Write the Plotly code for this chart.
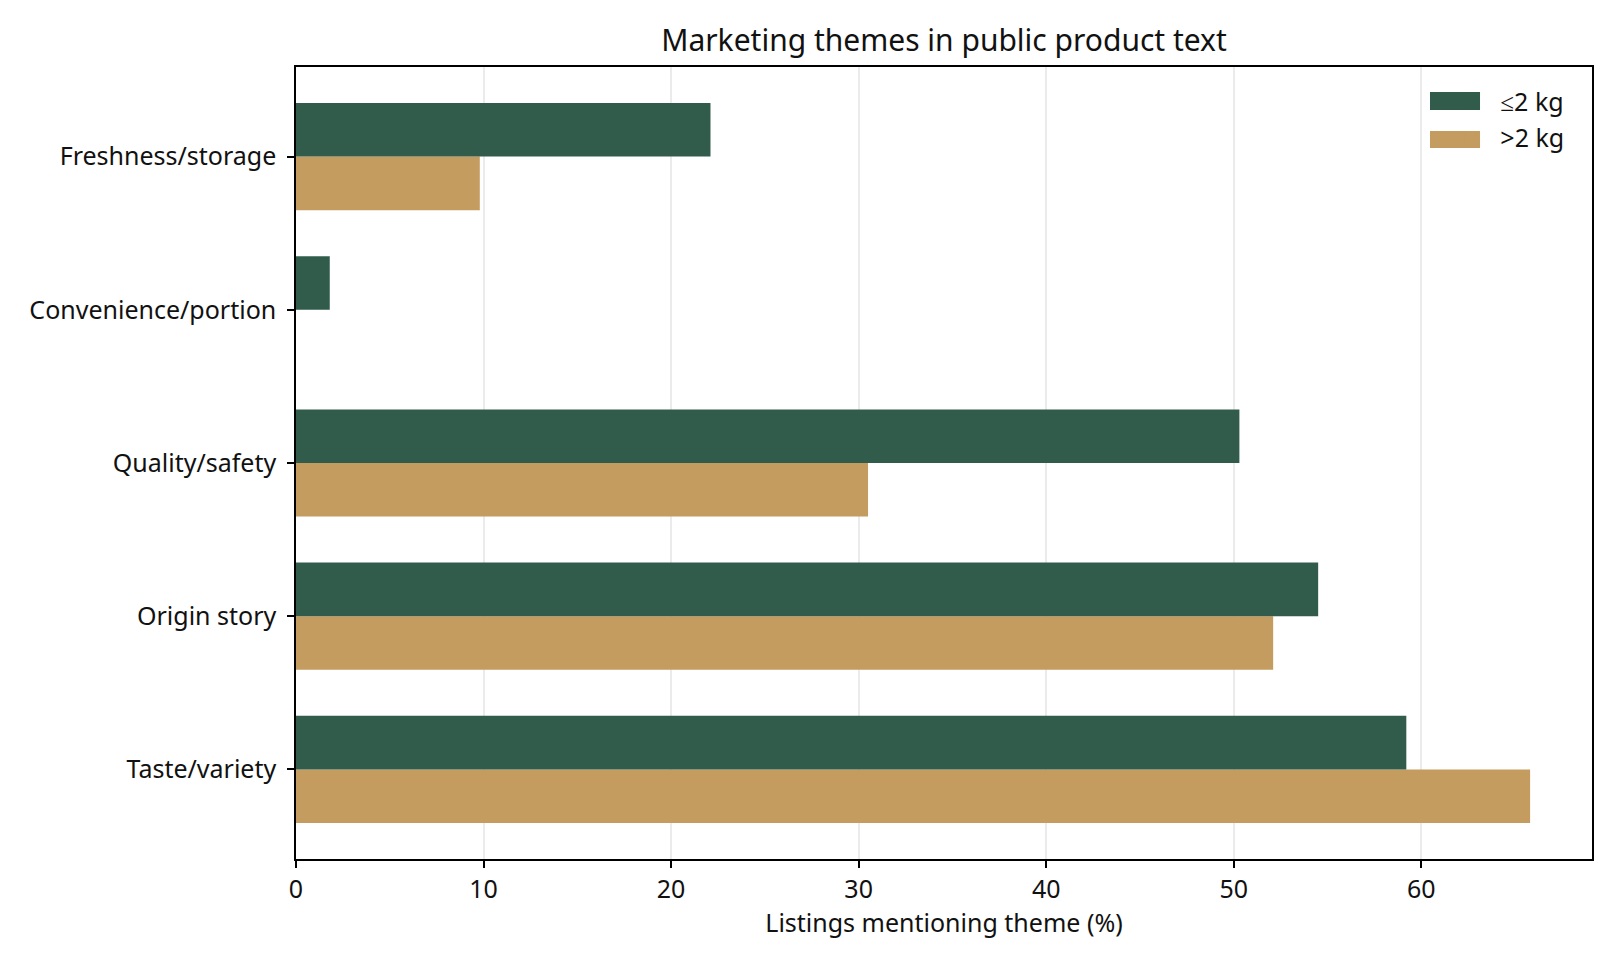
import plotly.graph_objects as go

categories = ["Taste/variety", "Origin story", "Quality/safety", "Convenience/portion", "Freshness/storage"]
small_pack = [59.2, 54.5, 50.3, 1.8, 22.1]   # <=2 kg
large_pack = [65.8, 52.1, 30.5, 0.0, 9.8]    # >2 kg
series_names = ["≤2 kg", ">2 kg"]
x_ticks = [0, 10, 20, 30, 40, 50, 60]

GREEN = "#315c4c"
TAN = "#c49c5f"
FONT = "Noto Sans"

fig = go.Figure()
fig.add_trace(go.Bar(y=categories, x=large_pack, name=series_names[1], orientation="h",
                     marker=dict(color=TAN, line=dict(width=0))))
fig.add_trace(go.Bar(y=categories, x=small_pack, name=series_names[0], orientation="h",
                     marker=dict(color=GREEN, line=dict(width=0))))

# wide legend swatches (matplotlib style) drawn behind the legend's own square markers
fig.add_shape(type="rect", xref="paper", yref="paper", x0=0.875, x1=0.9136, y0=0.9457, y1=0.9684,
              fillcolor=GREEN, line=dict(width=0), layer="above")
fig.add_shape(type="rect", xref="paper", yref="paper", x0=0.875, x1=0.9136, y0=0.8977, y1=0.9192,
              fillcolor=TAN, line=dict(width=0), layer="above")

fig.update_layout(
    width=1604, height=956,
    paper_bgcolor="white", plot_bgcolor="white",
    margin=dict(l=288, r=20, t=59, b=105),
    barmode="group", bargap=0.3, bargroupgap=0,
    font=dict(family=FONT, size=25, color="#111111"),
    title=dict(text="Marketing themes in public product text", x=0.5, xref="paper", xanchor="center",
               y=0.9655, yanchor="middle", font=dict(size=30, color="#111111")),
    legend=dict(x=0.883, y=0.985, xanchor="left", yanchor="top", traceorder="reversed",
                bgcolor="rgba(255,255,255,0)", font=dict(size=25), itemwidth=50),
    xaxis=dict(range=[0, 69.1], tickvals=x_ticks, showgrid=True,
               gridcolor="rgba(176,176,176,0.25)", gridwidth=1.5,
               showline=True, linecolor="black", linewidth=1.5, mirror=True,
               ticks="outside", ticklen=7, tickwidth=1.5, tickcolor="black",
               zeroline=False, layer="above traces",
               title=dict(text="Listings mentioning theme (%)", standoff=8, font=dict(size=25))),
    yaxis=dict(categoryorder="array", categoryarray=categories, range=[-0.585, 4.585],
               showgrid=False, showline=True, linecolor="black", linewidth=1.5, mirror=True,
               ticks="outside", ticklen=7, tickwidth=1.5, tickcolor="black",
               ticklabelstandoff=6,
               zeroline=False, layer="above traces"),
)

fig.write_html("out.html")
